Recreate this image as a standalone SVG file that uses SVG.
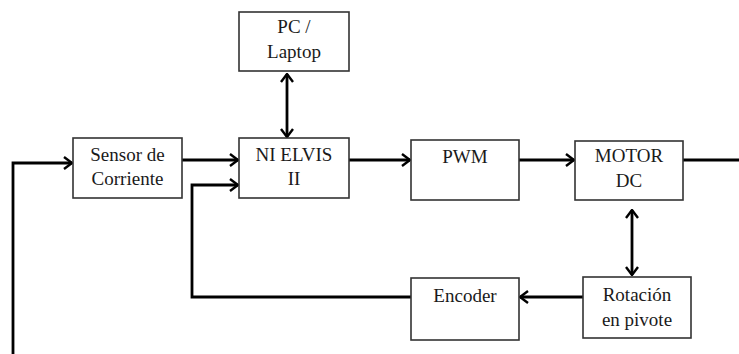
<svg xmlns="http://www.w3.org/2000/svg" width="739" height="354" viewBox="0 0 739 354">
<style>
.box{fill:#fff;stroke:#333;stroke-width:1.6}
.t{font-size:19px;fill:#1a1a1a;text-anchor:middle}
.c{fill:none;stroke:#000;stroke-width:2.8}
</style>
<defs>
<marker id="ah" viewBox="0 0 10 14" refX="9" refY="7" markerWidth="10" markerHeight="14" markerUnits="userSpaceOnUse" orient="auto-start-reverse">
<path d="M1,1 L9,7 L1,13" fill="none" stroke="#000" stroke-width="2.4"/>
</marker>
</defs>
<g id="connectors">
<path class="c" d="M287,74 V137" marker-start="url(#ah)" marker-end="url(#ah)"/>
<path class="c" d="M182,160 H238" marker-end="url(#ah)"/>
<path class="c" d="M349,160 H410" marker-end="url(#ah)"/>
<path class="c" d="M519,160 H574" marker-end="url(#ah)"/>
<path class="c" d="M683,160 H739"/>
<path class="c" d="M13,354 V163 H72" marker-end="url(#ah)"/>
<path class="c" d="M411,297 H192 V185 H238" marker-end="url(#ah)"/>
<path class="c" d="M583,297 H520" marker-end="url(#ah)"/>
<path class="c" d="M632,210 V275" marker-start="url(#ah)" marker-end="url(#ah)"/>
</g>
<g font-family="'Liberation Serif', 'DejaVu Serif', serif">
<g id="pc">
<rect class="box" x="239" y="12" width="110" height="59"/>
<text class="t" x="294" y="33">PC /</text>
<text class="t" x="294" y="58">Laptop</text>
</g>
<g id="sensor">
<rect class="box" x="73" y="138" width="109" height="60"/>
<text class="t" x="127.5" y="161">Sensor de</text>
<text class="t" x="127.5" y="185">Corriente</text>
</g>
<g id="nielvis">
<rect class="box" x="239" y="138" width="110" height="60"/>
<text class="t" x="294" y="161">NI ELVIS</text>
<text class="t" x="294" y="185">II</text>
</g>
<g id="pwm">
<rect class="box" x="411" y="140" width="108" height="60"/>
<text class="t" x="465" y="163">PWM</text>
</g>
<g id="motor">
<rect class="box" x="575" y="141" width="108" height="59"/>
<text class="t" x="629" y="162">MOTOR</text>
<text class="t" x="629" y="187">DC</text>
</g>
<g id="encoder">
<rect class="box" x="411" y="278" width="108" height="62"/>
<text class="t" x="465" y="302">Encoder</text>
</g>
<g id="rotacion">
<rect class="box" x="583" y="277" width="108" height="61"/>
<text class="t" x="637" y="301">Rotación</text>
<text class="t" x="637" y="326">en pivote</text>
</g>
</g>
</svg>
